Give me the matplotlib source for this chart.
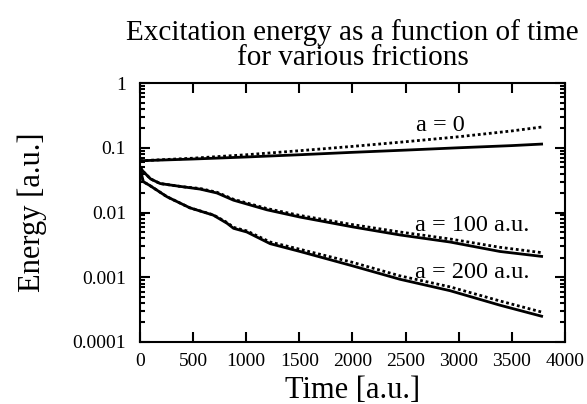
import numpy as np
import matplotlib.pyplot as plt
from matplotlib.ticker import MultipleLocator, LogLocator, NullFormatter, FixedFormatter, FixedLocator

plt.rcParams['font.family'] = ['Liberation Serif', 'DejaVu Serif']
plt.rcParams['mathtext.fontset'] = 'stix'

# time samples (a.u.)
t_a0 = [0, 500, 1000, 1500, 2000, 2500, 3000, 3500, 3780]
e_a0_solid = [0.063, 0.067, 0.072, 0.078, 0.085, 0.092, 0.100, 0.108, 0.114]
e_a0_dot = [0.063, 0.069, 0.078, 0.090, 0.105, 0.124, 0.148, 0.182, 0.209]

t_a100 = [0, 30, 100, 190, 400, 565, 725, 880, 1195, 1506, 2000, 2447, 2918,
          3388, 3780]
e_a100_solid = [0.05, 0.043, 0.033, 0.028, 0.025, 0.023, 0.020, 0.0155,
                0.011, 0.0085, 0.0060, 0.0045, 0.0035, 0.0025, 0.0021]
e_a100_dot = [0.05, 0.043, 0.033, 0.028, 0.025, 0.0235, 0.0205, 0.016,
              0.0115, 0.0090, 0.0065, 0.0050, 0.0039, 0.0029, 0.0024]

t_a200 = [0, 30, 94, 254, 470, 690, 820, 880, 1005, 1225, 1506, 2000,
          2447, 2918, 3388, 3780]
e_a200_solid = [0.05, 0.030, 0.026, 0.0175, 0.0118, 0.0091, 0.0068, 0.0057,
                0.0050, 0.0033, 0.0025, 0.0015, 0.00093, 0.00062, 0.00037,
                0.00025]
e_a200_dot = [0.05, 0.030, 0.026, 0.0175, 0.0118, 0.0092, 0.0070, 0.0059,
              0.0052, 0.0035, 0.0027, 0.0017, 0.00105, 0.00071, 0.00043,
              0.00029]

labels = ["a = 0", "a = 100 a.u.", "a = 200 a.u."]
label_pos = [(2830, 0.224), (3130, 0.0064), (3130, 0.0012)]

fig = plt.figure(figsize=(5.87, 4.04), dpi=100)
ax = fig.add_axes([0.2385, 0.1535, 0.724, 0.641])

for t, es, ed in [(t_a0, e_a0_solid, e_a0_dot),
                  (t_a100, e_a100_solid, e_a100_dot),
                  (t_a200, e_a200_solid, e_a200_dot)]:
    ax.plot(t, ed, color='black', ls=(0, (1, 1)), lw=2)
    ax.plot(t, es, color='black', ls='-', lw=2)

for lab, (x, y) in zip(labels, label_pos):
    ax.text(x, y, lab, fontsize=17.5, ha='center', va='center')

ax.set_yscale('log')
ax.set_xlim(0, 4000)
ax.set_ylim(1e-4, 1)
ax.xaxis.set_major_locator(MultipleLocator(500))
ax.yaxis.set_major_locator(FixedLocator([1e-4, 1e-3, 1e-2, 1e-1, 1]))
ax.yaxis.set_major_formatter(FixedFormatter(['0.0001', '0.001', '0.01', '0.1', '1']))
ax.yaxis.set_minor_locator(LogLocator(base=10, subs=np.arange(2, 10)))
ax.yaxis.set_minor_formatter(NullFormatter())
ax.tick_params(which='both', direction='in', top=True, right=True,
               width=1.5, labelsize=14)
ax.tick_params(which='major', length=7)
ax.tick_params(which='minor', length=3.5)
ax.tick_params(axis='x', pad=8)
ax.tick_params(axis='y', pad=10)
for s in ax.spines.values():
    s.set_linewidth(1.5)

ax.set_xlabel("Time [a.u.]", fontsize=22, labelpad=4)
ax.set_ylabel("Energy [a.u.]", fontsize=22, labelpad=18)
ax.set_title("Excitation energy as a function of time\nfor various frictions",
             fontsize=21, linespacing=0.95, pad=13)

fig.savefig('out.png', dpi=100)
